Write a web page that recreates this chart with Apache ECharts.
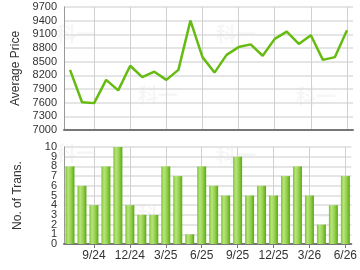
<!DOCTYPE html>
<html>
<head>
<meta charset="utf-8">
<title>Average Price / No. of Trans.</title>
<script src="https://cdn.jsdelivr.net/npm/echarts@6/dist/echarts.min.js"></script>
</head>
<body style="margin:0;padding:0;background:#fff;">
<div id="main" style="width:360px;height:270px;"></div>
<script>
// months 7/24 .. 6/26
var months = ['7/24','8/24','9/24','10/24','11/24','12/24','1/25','2/25','3/25','4/25','5/25','6/25',
              '7/25','8/25','9/25','10/25','11/25','12/25','1/26','2/26','3/26','4/26','5/26','6/26'];
var avgPrice = [8320,7610,7590,8100,7870,8410,8160,8280,8100,8320,9400,8600,
                8260,8650,8820,8880,8630,9000,9160,8890,9080,8540,8600,9190];
var transCount = [8,6,4,8,10,4,3,3,8,7,1,8,6,5,9,5,6,5,7,8,5,2,4,7];

var labelFont = { color: '#333', fontSize: 11, fontFamily: 'Liberation Sans, Arial' };
var showEvery3 = function (i) { return i % 3 === 2; };
var plain = function (v) { return String(v); };
var evenOnly = function (v) { return v % 2 === 0 ? String(v) : ''; };
var oddOnly = function (v) { return v % 2 === 1 ? String(v) : ''; };

var chart = echarts.init(document.getElementById('main'));

// faint watermark
var marks = [[56,24],[138,85],[216,24],[296,86],[56,143],[138,204],[216,145],[296,206]];
var graphics = marks.map(function (p) {
    return {
        type: 'text', left: p[0], top: p[1], z: -10, silent: true,
        style: { text: '科一', fill: 'rgba(0,0,0,0.035)', font: 'bold 20px "Noto Sans CJK SC"' }
    };
});

function yLabel(fmt) {
    return Object.assign({ margin: 7, formatter: fmt, showMinLabel: true, showMaxLabel: true,
                           hideOverlap: false }, labelFont);
}

var option = {
    animation: false,
    graphic: graphics,
    grid: [
        { left: 64, top: 7, width: 289, height: 123 },
        { left: 64, top: 147, width: 289, height: 97 }
    ],
    xAxis: [
        {
            type: 'category', gridIndex: 0, data: months,
            axisLine: { lineStyle: { color: '#777', width: 2 } },
            axisTick: { show: false },
            axisLabel: { show: false },
            splitLine: { show: true, alignWithLabel: true, interval: showEvery3,
                         lineStyle: { color: '#d0d0d0', width: 1 } }
        },
        {
            type: 'category', gridIndex: 1, data: months,
            axisLine: { lineStyle: { color: '#777', width: 2 } },
            axisTick: { show: true, alignWithLabel: true, interval: showEvery3, length: 4,
                        lineStyle: { color: '#777' } },
            axisLabel: Object.assign({ interval: showEvery3, margin: 6 }, labelFont, { fontSize: 12 }),
            splitLine: { show: true, alignWithLabel: true, interval: showEvery3,
                         lineStyle: { color: '#d0d0d0', width: 1 } }
        }
    ],
    yAxis: [
        {
            type: 'value', gridIndex: 0, min: 7000, max: 9700, interval: 300,
            name: 'Average Price', nameLocation: 'middle', nameGap: 40,
            nameTextStyle: { color: '#333', fontSize: 12, fontFamily: 'Liberation Sans, Arial' },
            axisLine: { show: true, lineStyle: { color: '#999', width: 1 } },
            axisTick: { show: false },
            axisLabel: yLabel(plain),
            splitLine: { lineStyle: { color: '#dcdcdc', width: 1.5 } }
        },
        {
            type: 'value', gridIndex: 1, min: 0, max: 10, interval: 1,
            name: 'No. of Trans.', nameLocation: 'middle', nameGap: 40,
            nameTextStyle: { color: '#333', fontSize: 12, fontFamily: 'Liberation Sans, Arial' },
            axisLine: { show: true, lineStyle: { color: '#999', width: 1 } },
            axisTick: { show: false },
            axisLabel: yLabel(evenOnly),
            splitLine: { lineStyle: { color: '#dcdcdc', width: 1.5 } }
        },
        {
            // same scale, carries the odd tick labels so none get dropped
            type: 'value', gridIndex: 1, min: 0, max: 10, interval: 1, position: 'left', offset: 0,
            axisLine: { show: false },
            axisTick: { show: false },
            axisLabel: yLabel(oddOnly),
            splitLine: { show: false }
        }
    ],
    series: [
        {
            type: 'line', xAxisIndex: 0, yAxisIndex: 0, data: avgPrice,
            symbol: 'none', lineStyle: { color: '#66bb11', width: 2.5 }
        },
        {
            type: 'bar', xAxisIndex: 1, yAxisIndex: 1, data: transCount,
            barWidth: 9,
            itemStyle: {
                color: new echarts.graphic.LinearGradient(0, 0, 1, 0, [
                    { offset: 0, color: '#7cc52c' },
                    { offset: 0.3, color: '#b8e47e' },
                    { offset: 0.65, color: '#92cf4a' },
                    { offset: 1, color: '#5aa812' }
                ])
            }
        }
    ]
};
chart.setOption(option);
</script>
</body>
</html>
